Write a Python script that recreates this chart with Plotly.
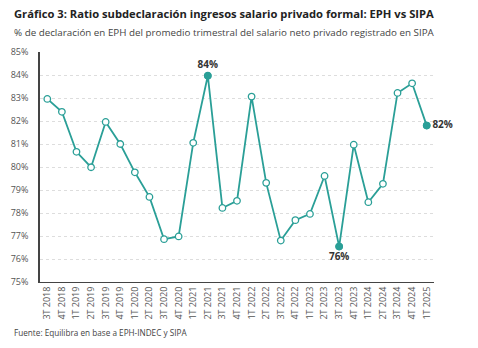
import plotly.graph_objects as go

categories = ["3T 2018", "4T 2018", "1T 2019", "2T 2019", "3T 2019", "4T 2019",
              "1T 2020", "2T 2020", "3T 2020", "4T 2020", "1T 2021", "2T 2021",
              "3T 2021", "4T 2021", "1T 2022", "2T 2022", "3T 2022", "4T 2022",
              "1T 2023", "2T 2023", "3T 2023", "4T 2023", "1T 2024", "2T 2024",
              "3T 2024", "4T 2024", "1T 2025"]
ratio = [82.96, 82.4, 80.66, 79.99, 81.96, 81.0,
         79.77, 78.7, 76.86, 76.98, 81.05, 83.97,
         78.22, 78.53, 83.06, 79.31, 76.8, 77.69,
         77.96, 79.61, 76.54, 80.97, 78.47, 79.27,
         83.22, 83.64, 81.8]
highlight = {"2T 2021": ("84%", "top center"),
             "3T 2023": ("76%", "bottom center"),
             "1T 2025": ("82%", "middle right")}
y_ticks = [75, 76, 77, 78, 79, 80, 81, 82, 83, 84, 85]
y_labels = [f"{v}%" for v in y_ticks]

teal = "#2a9f97"
fig = go.Figure()
fig.add_trace(go.Scatter(
    x=categories, y=ratio, mode="lines+markers",
    line=dict(color=teal, width=1.8),
    marker=dict(size=6.5, color="white", line=dict(color=teal, width=1.3)),
    hoverinfo="skip", showlegend=False))

hx = [c for c in categories if c in highlight]
hy = [ratio[categories.index(c)] for c in hx]
for c, v in zip(hx, hy):
    txt, pos = highlight[c]
    fig.add_trace(go.Scatter(
        x=[c], y=[v], mode="markers+text",
        marker=dict(size=7.5, color=teal),
        text=["<b>" + txt + "</b>"], textposition=pos,
        textfont=dict(size=10, color="#333333", family="Open Sans"),
        cliponaxis=False, hoverinfo="skip", showlegend=False))

fig.update_layout(
    width=478, height=348,
    margin=dict(l=40, r=44, t=52, b=66),
    paper_bgcolor="white", plot_bgcolor="white",
    font=dict(family="Open Sans", color="#555555", size=9),
    xaxis=dict(type="category", range=[-0.5, 26.5], tickangle=-90,
               showgrid=False, showline=True, linecolor="#444444", linewidth=1,
               ticks="", tickfont=dict(size=9, color="#555555")),
    yaxis=dict(range=[75, 85], tickvals=y_ticks, ticktext=y_labels,
               showgrid=True, gridcolor="#dddddd", griddash="dot", gridwidth=1,
               showline=True, linecolor="#444444", linewidth=1.5,
               zeroline=False, ticks="", ticklabelstandoff=8,
               tickfont=dict(size=9, color="#555555")),
)
fig.add_annotation(text="<b>Gráfico 3: Ratio subdeclaración ingresos salario privado formal: EPH vs SIPA</b>",
                   xref="paper", yref="paper", x=0, xanchor="left", xshift=-28,
                   y=1, yanchor="bottom", yshift=29, showarrow=False,
                   font=dict(size=11.2, color="#222222", family="Open Sans"))
fig.add_annotation(text="% de declaración en EPH del promedio trimestral del salario neto privado registrado en SIPA",
                   xref="paper", yref="paper", x=0, xanchor="left", xshift=-28,
                   y=1, yanchor="bottom", yshift=11, showarrow=False,
                   font=dict(size=9.8, color="#444444", family="Open Sans"))
fig.add_annotation(text="Fuente: Equilibra en base a EPH-INDEC y SIPA",
                   xref="paper", yref="paper", x=0, xanchor="left", xshift=-28,
                   y=0, yanchor="top", yshift=-43, showarrow=False,
                   font=dict(size=8.2, color="#444444", family="Open Sans"))
fig.write_html("out.html")
